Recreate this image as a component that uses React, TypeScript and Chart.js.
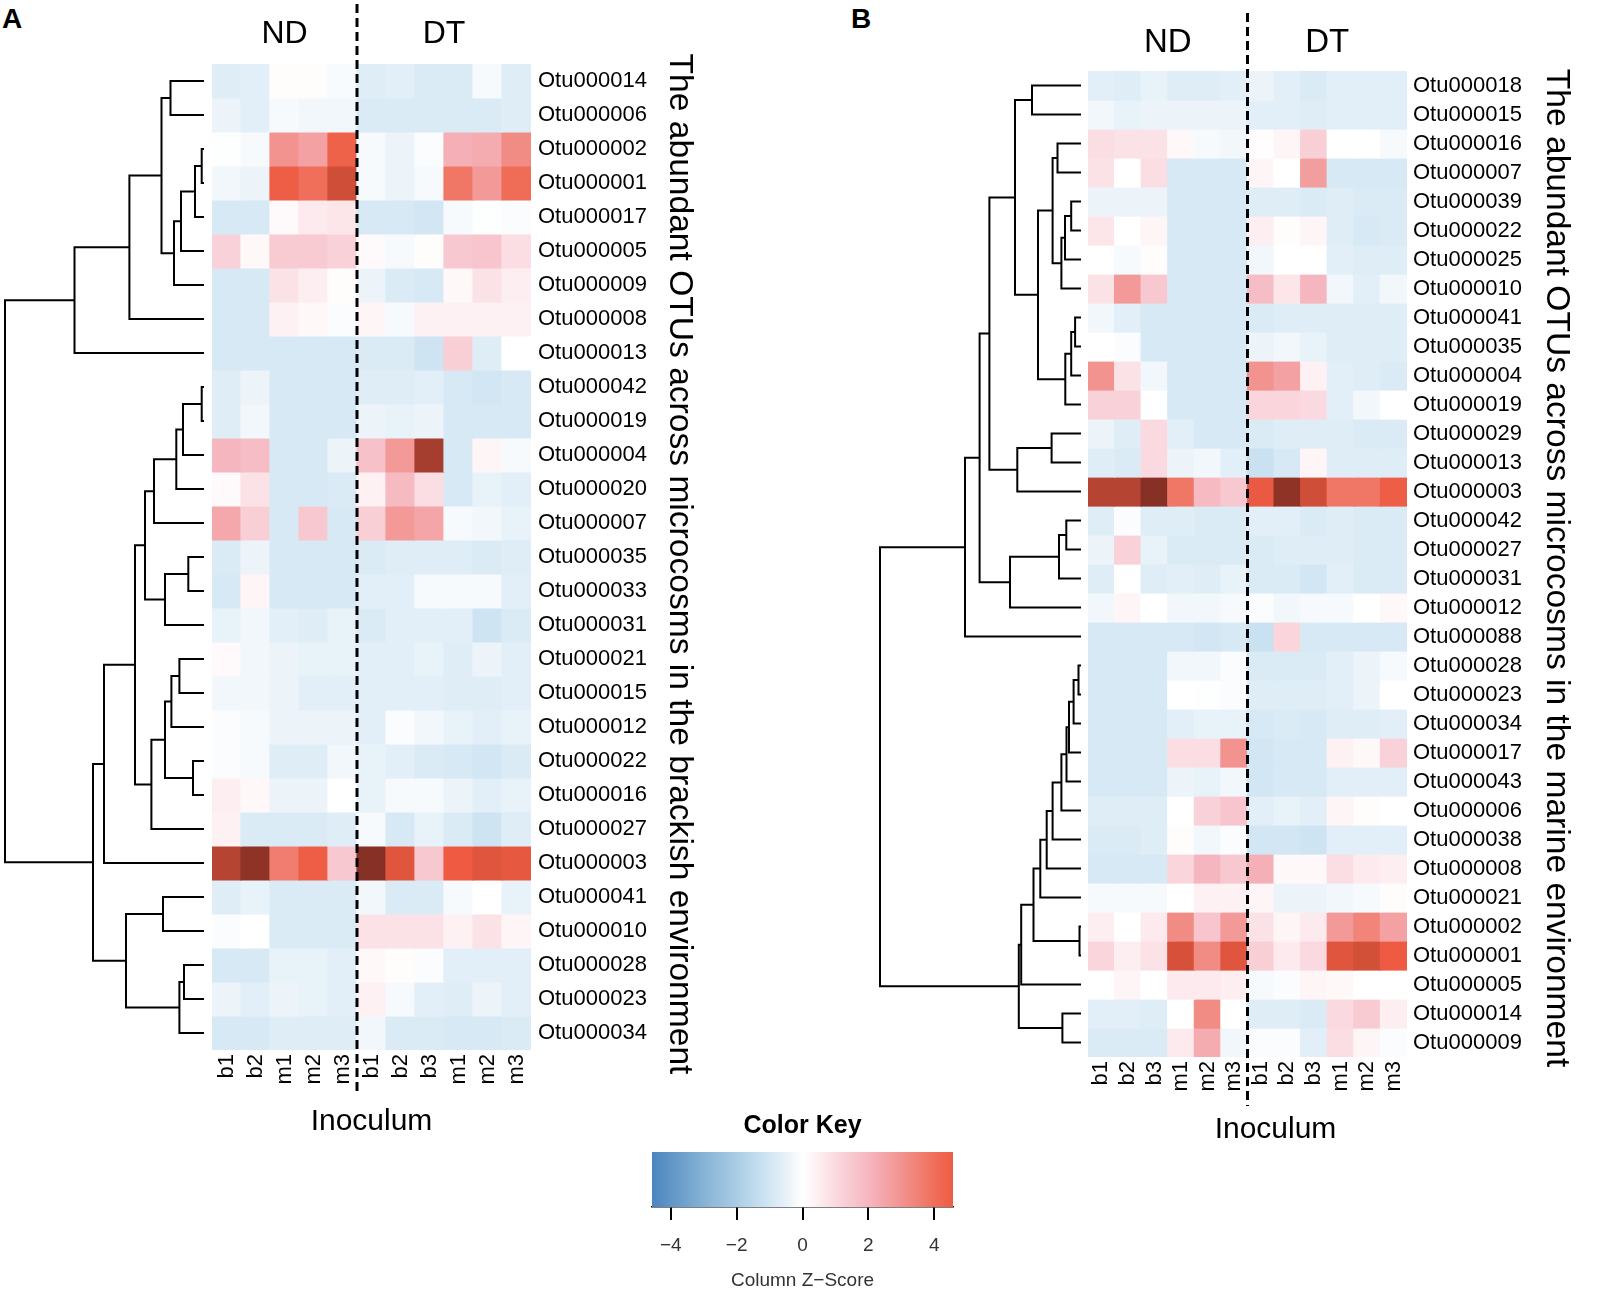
import React, { useEffect, useRef } from "react";
import { Chart, registerables } from "chart.js";
Chart.register(...registerables);

const FONT = '"Liberation Sans", Arial, Helvetica, sans-serif';

// ---------------- Panel A : brackish ----------------
const rowsA = [
  "Otu000014", "Otu000006", "Otu000002", "Otu000001", "Otu000017", "Otu000005",
  "Otu000009", "Otu000008", "Otu000013", "Otu000042", "Otu000019", "Otu000004",
  "Otu000020", "Otu000007", "Otu000035", "Otu000033", "Otu000031", "Otu000021",
  "Otu000015", "Otu000012", "Otu000022", "Otu000016", "Otu000027", "Otu000003",
  "Otu000041", "Otu000010", "Otu000028", "Otu000023", "Otu000034",
];
const colsA = ["b1", "b2", "m1", "m2", "m3", "b1", "b2", "b3", "m1", "m2", "m3"];
const groupsA = ["ND", "DT"];
const groupSizesA = [5, 6];
const titleA = "The abundant OTUs across microcosms in the brackish environment";
const zA = [
  [-0.7, -0.6, 0.1, 0.1, -0.15, -0.7, -0.6, -0.8, -0.8, -0.2, -0.7],
  [-0.4, -0.6, -0.2, -0.3, -0.3, -0.8, -0.8, -0.8, -0.8, -0.8, -0.7],
  [-0.05, -0.2, 3.0, 2.6, 4.4, -0.2, -0.4, -0.1, 2.2, 2.3, 3.2],
  [-0.3, -0.4, 4.5, 4.0, 5.4, -0.2, -0.4, -0.2, 3.8, 2.8, 4.1],
  [-0.9, -0.9, 0.15, 0.6, 0.7, -0.9, -0.9, -1.0, -0.2, -0.05, -0.1],
  [1.2, 0.2, 1.4, 1.4, 1.2, 0.15, -0.2, 0.1, 1.5, 1.6, 0.9],
  [-0.9, -0.9, 0.8, 0.5, 0.1, -0.4, -0.8, -0.9, 0.2, 0.8, 0.5],
  [-0.9, -0.9, 0.4, 0.2, -0.1, 0.3, -0.2, 0.4, 0.4, 0.4, 0.4],
  [-0.9, -0.9, -0.9, -0.9, -0.9, -0.8, -0.8, -1.1, 1.3, -0.7, 0.0],
  [-0.7, -0.4, -0.9, -0.9, -0.9, -0.7, -0.7, -0.6, -0.9, -1.0, -0.9],
  [-0.7, -0.3, -0.9, -0.9, -0.9, -0.4, -0.5, -0.4, -0.9, -0.9, -0.9],
  [2.0, 1.8, -0.9, -0.9, -0.4, 1.7, 2.8, 6.4, -0.9, 0.3, -0.2],
  [0.15, 0.8, -0.9, -0.9, -0.8, 0.4, 1.9, 0.9, -0.9, -0.5, -0.6],
  [2.4, 1.3, -0.9, 1.5, -0.9, 1.3, 2.8, 2.5, -0.2, -0.3, -0.5],
  [-0.8, -0.4, -0.9, -0.9, -0.9, -0.8, -0.7, -0.7, -0.7, -0.8, -0.7],
  [-0.9, 0.3, -0.9, -0.9, -0.9, -0.6, -0.6, -0.2, -0.2, -0.2, -0.6],
  [-0.5, -0.3, -0.6, -0.7, -0.5, -0.8, -0.6, -0.6, -0.6, -1.1, -0.8],
  [0.15, -0.3, -0.4, -0.5, -0.5, -0.6, -0.6, -0.5, -0.7, -0.4, -0.6],
  [-0.3, -0.3, -0.4, -0.6, -0.6, -0.6, -0.6, -0.6, -0.7, -0.7, -0.6],
  [-0.1, -0.2, -0.4, -0.4, -0.4, -0.6, -0.1, -0.3, -0.5, -0.6, -0.5],
  [-0.1, -0.2, -0.7, -0.7, -0.3, -0.5, -0.6, -0.8, -0.9, -1.0, -0.8],
  [0.5, 0.2, -0.4, -0.4, 0.0, -0.5, -0.2, -0.2, -0.4, -0.6, -0.5],
  [0.4, -0.8, -0.8, -0.8, -0.7, -0.2, -0.9, -0.5, -0.8, -1.1, -0.7],
  [6.0, 7.0, 3.6, 4.5, 1.5, 7.2, 5.0, 1.5, 4.6, 5.0, 4.8],
  [-0.7, -0.5, -0.8, -0.8, -0.8, -0.3, -0.8, -0.8, -0.2, 0.0, -0.5],
  [-0.1, 0.0, -0.8, -0.8, -0.8, 0.8, 0.8, 0.8, 0.4, 0.8, 0.3],
  [-0.9, -0.9, -0.5, -0.5, -0.6, 0.2, 0.1, -0.1, -0.6, -0.6, -0.6],
  [-0.4, -0.6, -0.4, -0.5, -0.6, 0.4, -0.2, -0.6, -0.7, -0.4, -0.6],
  [-0.9, -0.9, -0.7, -0.7, -0.7, -0.3, -0.8, -0.8, -0.9, -0.9, -0.8],
];
// hclust-style merges: negative = leaf (1-based row), positive = earlier merge (1-based)
const mergeA: [number, number][] = [
  [-3, -4], [-10, -11], [1, -5], [-21, -22], [-15, -16], [-27, -28], [2, -12],
  [3, -6], [-18, -19], [6, -29], [7, -13], [8, -7], [9, -20], [-1, -2], [5, -17],
  [13, 4], [-25, -26], [14, 12], [11, -14], [16, -23], [19, 15], [21, 20],
  [18, -8], [17, 10], [22, -24], [25, 24], [23, -9], [27, 26],
];
const heightA = [
  2.3, 2.3, 9, 11, 15.7, 20, 21, 23, 24.6, 24.6, 27.7, 30, 32.6, 33.5, 39, 39,
  41, 42.5, 50, 52.6, 59, 69, 74.6, 78, 100, 111, 129.5, 199,
];

// ---------------- Panel B : marine ----------------
const rowsB = [
  "Otu000018", "Otu000015", "Otu000016", "Otu000007", "Otu000039", "Otu000022",
  "Otu000025", "Otu000010", "Otu000041", "Otu000035", "Otu000004", "Otu000019",
  "Otu000029", "Otu000013", "Otu000003", "Otu000042", "Otu000027", "Otu000031",
  "Otu000012", "Otu000088", "Otu000028", "Otu000023", "Otu000034", "Otu000017",
  "Otu000043", "Otu000006", "Otu000038", "Otu000008", "Otu000021", "Otu000002",
  "Otu000001", "Otu000005", "Otu000014", "Otu000009",
];
const colsB = ["b1", "b2", "b3", "m1", "m2", "m3", "b1", "b2", "b3", "m1", "m2", "m3"];
const groupsB = ["ND", "DT"];
const groupSizesB = [6, 6];
const titleB = "The abundant OTUs across microcosms in the marine environment";
const zB = [
  [-0.6, -0.7, -0.5, -0.7, -0.7, -0.6, -0.4, -0.6, -0.8, -0.6, -0.6, -0.6],
  [-0.3, -0.5, -0.4, -0.4, -0.4, -0.4, -0.6, -0.6, -0.7, -0.6, -0.6, -0.6],
  [0.9, 0.8, 0.8, 0.2, -0.2, -0.3, 0.05, 0.3, 1.3, 0.0, 0.0, -0.2],
  [0.8, 0.0, 0.9, -0.9, -0.9, -0.9, 0.3, 0.0, 2.7, -0.9, -0.9, -0.9],
  [-0.4, -0.4, -0.4, -0.9, -0.9, -0.9, -0.7, -0.7, -0.8, -0.7, -0.8, -0.8],
  [0.7, 0.0, 0.3, -0.9, -0.9, -0.9, 0.5, 0.1, 0.3, -0.7, -0.9, -0.8],
  [0.0, -0.2, 0.1, -0.9, -0.9, -0.9, -0.3, 0.0, 0.0, -0.6, -0.7, -0.7],
  [0.8, 2.8, 1.5, -0.9, -0.9, -0.9, 1.8, 0.7, 2.0, -0.3, -0.6, -0.3],
  [-0.3, -0.6, -0.9, -0.9, -0.9, -0.9, -0.8, -0.7, -0.7, -0.7, -0.7, -0.7],
  [0.0, -0.1, -0.9, -0.9, -0.9, -0.9, -0.4, -0.3, -0.5, -0.7, -0.7, -0.7],
  [3.0, 0.8, -0.3, -0.9, -0.9, -0.9, 3.0, 2.6, 0.4, -0.6, -0.7, -0.8],
  [1.2, 1.2, 0.0, -0.9, -0.9, -0.9, 1.1, 1.1, 1.0, -0.6, -0.3, 0.0],
  [-0.4, -0.7, 1.0, -0.6, -0.9, -0.9, -0.8, -0.7, -0.7, -0.7, -0.8, -0.8],
  [-0.7, -0.8, 1.0, -0.4, -0.3, -0.6, -1.2, -0.9, 0.3, -0.7, -0.7, -0.7],
  [6.0, 6.0, 7.2, 3.8, 1.9, 1.5, 4.7, 7.0, 5.4, 3.8, 3.8, 4.5],
  [-0.7, -0.1, -0.7, -0.7, -0.8, -0.8, -0.6, -0.6, -0.8, -0.7, -0.8, -0.8],
  [-0.4, 1.2, -0.5, -0.8, -0.8, -0.8, -0.8, -0.7, -0.7, -0.7, -0.8, -0.8],
  [-0.7, 0.0, -0.7, -0.6, -0.7, -0.5, -0.8, -0.8, -1.0, -0.6, -0.8, -0.8],
  [-0.3, 0.3, 0.0, -0.3, -0.3, -0.2, -0.1, -0.3, -0.2, -0.2, 0.0, 0.2],
  [-0.9, -0.9, -0.9, -0.9, -1.0, -0.9, -1.2, 1.1, -0.9, -0.9, -0.9, -0.9],
  [-0.9, -0.9, -0.9, -0.3, -0.3, -0.1, -0.8, -0.8, -0.8, -0.6, -0.4, -0.2],
  [-0.9, -0.9, -0.9, 0.0, -0.05, -0.1, -0.7, -0.7, -0.7, -0.6, -0.4, 0.0],
  [-0.9, -0.9, -0.9, -0.6, -0.5, -0.5, -0.9, -0.8, -0.9, -0.7, -0.7, -0.6],
  [-0.9, -0.9, -0.9, 0.9, 0.9, 3.0, -1.0, -0.9, -0.9, 0.4, 0.2, 1.2],
  [-0.9, -0.9, -0.9, -0.4, -0.5, -0.3, -1.0, -0.9, -0.9, -0.6, -0.6, -0.6],
  [-0.7, -0.7, -0.7, 0.0, 1.2, 1.6, -0.6, -0.5, -0.6, 0.3, 0.1, 0.0],
  [-0.8, -0.8, -0.7, 0.1, -0.3, -0.1, -1.0, -1.0, -1.1, -0.6, -0.6, -0.6],
  [-0.9, -0.9, -0.9, 1.1, 2.0, 1.5, 2.2, 0.2, 0.2, 0.9, 0.6, 0.5],
  [-0.2, -0.2, -0.2, 0.0, 0.4, 0.4, 0.3, -0.4, -0.4, -0.3, -0.2, 0.1],
  [0.5, 0.0, 0.6, 3.2, 1.6, 2.8, 0.8, 0.3, 0.6, 2.8, 3.4, 2.6],
  [1.1, 0.5, 0.8, 5.2, 3.2, 5.0, 1.3, 0.6, 1.0, 5.0, 5.3, 4.6],
  [0.0, 0.3, 0.0, 0.6, 0.6, 0.5, -0.2, -0.1, 0.3, 0.2, 0.0, 0.0],
  [-0.6, -0.6, -0.7, 0.0, 3.2, 0.0, -0.7, -0.7, -0.8, 1.0, 1.4, 0.5],
  [-0.8, -0.8, -0.8, 0.6, 2.3, -0.3, -0.1, -0.1, -0.6, 0.9, 0.3, -0.1],
];
const mergeB: [number, number][] = [
  [-30, -31], [-21, -22], [-9, -10], [2, -23], [-5, -6], [3, -11], [4, -24],
  [7, -25], [-16, -17], [5, -7], [6, -12], [-33, -34], [10, -8], [8, -26],
  [9, -18], [-3, -4], [16, 13], [14, -27], [-13, -14], [18, -28], [20, -29],
  [17, 11], [21, 1], [-1, -2], [23, -32], [25, 12], [19, -15], [24, 22],
  [15, -19], [28, 27], [30, 29], [31, -20], [32, 26],
];
const heightB = [
  1.5, 2.5, 5.9, 7.4, 9.8, 9.8, 12, 14.5, 14.7, 16, 15.7, 18.6, 19.6, 19.6,
  22, 23.5, 28.4, 28.4, 29.4, 34.3, 40.7, 43, 47.5, 49, 59.8, 62.2, 63.7, 66,
  71, 91.6, 101.4, 116, 201,
];

// ---------------- Color key ----------------
const keyRange = [-4.57, 4.57];
const keyTicks = [-4, -2, 0, 2, 4];

// colour ramp (style)
const rampZ = [-4.6, -3, -2, -1.2, -0.9, -0.6, -0.3, 0, 0.5, 1.2, 2, 3, 4, 4.6, 5.4, 6.2, 7.2];
const rampHex = [
  "#4a84bf", "#86b3d5", "#a9cde4", "#c9e1f1", "#d7e9f5", "#e3eff8", "#f1f7fb",
  "#ffffff", "#fdeef1", "#f9d2d9", "#f6b6c0", "#f2938f", "#ef6f5a", "#ee5b42",
  "#cf4e37", "#ad4130", "#873025",
];
function hexToRgb(h: string) {
  return [parseInt(h.slice(1, 3), 16), parseInt(h.slice(3, 5), 16), parseInt(h.slice(5, 7), 16)];
}
function colorFor(z: number) {
  if (z <= rampZ[0]) return rampHex[0];
  if (z >= rampZ[rampZ.length - 1]) return rampHex[rampHex.length - 1];
  for (let i = 0; i < rampZ.length - 1; i++) {
    if (z >= rampZ[i] && z <= rampZ[i + 1]) {
      const t = (z - rampZ[i]) / (rampZ[i + 1] - rampZ[i]);
      const a = hexToRgb(rampHex[i]);
      const b = hexToRgb(rampHex[i + 1]);
      const c = a.map((v, k) => Math.round(v + (b[k] - v) * t));
      return `rgb(${c[0]},${c[1]},${c[2]})`;
    }
  }
  return "#ffffff";
}

type HeatLayout = {
  left: number; top: number; width: number; height: number;
  padL: number; padT: number; rightW: number; bottomH: number;
  headerSize: number; headerBaseline: number;
  dashTop: number; dashBottom: number;
  inocOffset: number; inocBaseline: number;
  titleX: number; titleDy: number; labelPad: number;
};

function Heatmap(props: {
  rows: string[]; cols: string[]; z: number[][]; groups: string[];
  groupSizes: number[]; title: string; L: HeatLayout;
}) {
  const ref = useRef<HTMLCanvasElement | null>(null);
  const { rows, cols, z, groups, groupSizes, title, L } = props;
  useEffect(() => {
    if (!ref.current) return;
    const extras = {
      id: "heatExtras",
      afterDraw(chart: any) {
        const ctx = chart.ctx;
        const xs = chart.scales.x;
        const area = chart.chartArea;
        ctx.save();
        ctx.fillStyle = "#000";
        ctx.textAlign = "center";
        ctx.textBaseline = "alphabetic";
        ctx.font = `${L.headerSize}px ${FONT}`;
        let start = 0;
        groups.forEach((g, gi) => {
          const end = start + groupSizes[gi] - 1;
          const cx = (xs.getPixelForValue(start) + xs.getPixelForValue(end)) / 2;
          ctx.fillText(g, cx, L.headerBaseline - L.top);
          start = end + 1;
        });
        const bx = (xs.getPixelForValue(groupSizes[0] - 1) + xs.getPixelForValue(groupSizes[0])) / 2;
        ctx.strokeStyle = "#000";
        ctx.lineWidth = 3;
        ctx.setLineDash([9, 5]);
        ctx.beginPath();
        ctx.moveTo(bx, L.dashTop - L.top);
        ctx.lineTo(bx, L.dashBottom - L.top);
        ctx.stroke();
        ctx.setLineDash([]);
        ctx.font = `30px ${FONT}`;
        ctx.fillText("Inoculum", (area.left + area.right) / 2 + L.inocOffset, L.inocBaseline - L.top);
        ctx.translate(L.titleX - L.left, (area.top + area.bottom) / 2 + L.titleDy);
        ctx.rotate(Math.PI / 2);
        ctx.font = `33.6px ${FONT}`;
        ctx.fillText(title, 0, 0);
        ctx.restore();
      },
    };
    const chart = new Chart(ref.current, {
      type: "bar",
      data: {
        labels: cols,
        datasets: rows.map((r, i) => ({
          label: r,
          data: cols.map(() => 1),
          backgroundColor: z[i].map(colorFor),
          borderWidth: 0,
          barPercentage: 1,
          categoryPercentage: 1,
          inflateAmount: 0.6,
          stack: "cells",
        })),
      },
      options: {
        animation: false,
        responsive: false,
        maintainAspectRatio: false,
        layout: { padding: { left: L.padL, top: L.padT, right: 0, bottom: 0 } },
        plugins: { legend: { display: false }, tooltip: { enabled: false } },
        scales: {
          x: {
            type: "category",
            stacked: true,
            offset: true,
            grid: { display: false, drawTicks: false },
            border: { display: false },
            ticks: {
              autoSkip: false,
              minRotation: 90,
              maxRotation: 90,
              padding: 4,
              color: "#000",
              font: { size: 22, family: FONT },
            },
            afterFit: (s: any) => { s.height = L.bottomH; },
          },
          y: {
            type: "linear",
            stacked: true,
            min: 0,
            max: rows.length,
            reverse: true,
            position: "right",
            grid: { display: false, drawTicks: false },
            border: { display: false },
            afterBuildTicks: (s: any) => { s.ticks = rows.map((_, i) => ({ value: i + 0.5 })); },
            ticks: {
              autoSkip: false,
              padding: L.labelPad,
              color: "#000",
              font: { size: 22, family: FONT },
              callback: (_v: any, i: number) => rows[i],
            },
            afterFit: (s: any) => { s.width = L.rightW; },
          },
        },
      } as any,
      plugins: [extras],
    });
    return () => chart.destroy();
  }, []);
  return (
    <canvas
      ref={ref}
      width={L.width}
      height={L.height}
      style={{ position: "absolute", left: L.left, top: L.top, width: L.width, height: L.height }}
    />
  );
}

type DendroLayout = { left: number; top: number; width: number; height: number; pl: number; pr: number; pt: number; pb: number };

function buildSegments(merge: [number, number][], heights: number[]) {
  const pos: number[] = [];
  const yOf = (id: number) => (id < 0 ? -id - 1 + 0.5 : pos[id - 1]);
  const hOf = (id: number) => (id < 0 ? 0 : heights[id - 1]);
  return merge.map(([a, b], k) => {
    const ya = yOf(a);
    const yb = yOf(b);
    const h = heights[k];
    pos[k] = (ya + yb) / 2;
    return [
      { x: hOf(a), y: ya },
      { x: h, y: ya },
      { x: h, y: yb },
      { x: hOf(b), y: yb },
    ];
  });
}

function Dendrogram(props: { merge: [number, number][]; heights: number[]; nRows: number; L: DendroLayout }) {
  const ref = useRef<HTMLCanvasElement | null>(null);
  const { merge, heights, nRows, L } = props;
  useEffect(() => {
    if (!ref.current) return;
    const segs = buildSegments(merge, heights);
    const chart = new Chart(ref.current, {
      type: "scatter",
      data: {
        datasets: segs.map((s) => ({
          data: s,
          showLine: true,
          borderColor: "#000",
          borderWidth: 2,
          borderJoinStyle: "miter",
          borderCapStyle: "butt",
          pointRadius: 0,
          tension: 0,
          clip: false,
        })),
      },
      options: {
        animation: false,
        responsive: false,
        maintainAspectRatio: false,
        layout: { padding: { left: L.pl, right: L.pr, top: L.pt, bottom: L.pb } },
        plugins: { legend: { display: false }, tooltip: { enabled: false } },
        scales: {
          x: { type: "linear", min: 0, max: Math.max(...heights), reverse: true, display: false },
          y: { type: "linear", min: 0, max: nRows, reverse: true, display: false },
        },
      } as any,
    });
    return () => chart.destroy();
  }, []);
  return (
    <canvas
      ref={ref}
      width={L.width}
      height={L.height}
      style={{ position: "absolute", left: L.left, top: L.top, width: L.width, height: L.height }}
    />
  );
}

function ColorKey() {
  const ref = useRef<HTMLCanvasElement | null>(null);
  useEffect(() => {
    if (!ref.current) return;
    const [kMin, kMax] = keyRange;
    const chart = new Chart(ref.current, {
      type: "bar",
      data: {
        labels: [""],
        datasets: [
          {
            data: [[kMin, kMax]],
            backgroundColor: (c: any) => {
              const ch = c.chart;
              if (!ch.chartArea) return "#fff";
              const xs = ch.scales.x;
              const x0 = xs.getPixelForValue(kMin);
              const x1 = xs.getPixelForValue(kMax);
              const g = ch.ctx.createLinearGradient(x0, 0, x1, 0);
              g.addColorStop(0, colorFor(kMin));
              rampZ.forEach((zz) => {
                if (zz > kMin && zz < kMax) g.addColorStop((zz - kMin) / (kMax - kMin), colorFor(zz));
              });
              g.addColorStop(1, colorFor(kMax));
              return g;
            },
            borderWidth: 0,
            barPercentage: 1,
            categoryPercentage: 1,
          },
        ],
      },
      options: {
        animation: false,
        responsive: false,
        maintainAspectRatio: false,
        indexAxis: "y",
        layout: { padding: { left: 32, right: 47, top: 0, bottom: 0 } },
        plugins: {
          legend: { display: false },
          tooltip: { enabled: false },
          title: {
            display: true,
            text: "Color Key",
            color: "#000",
            font: { size: 25, weight: "bold", family: FONT },
            padding: { top: 0, bottom: 11 },
          },
        },
        scales: {
          x: {
            type: "linear",
            min: kMin,
            max: kMax,
            afterBuildTicks: (s: any) => { s.ticks = keyTicks.map((v) => ({ value: v })); },
            ticks: {
              color: "#333",
              padding: 14,
              font: { size: 19, family: FONT },
              callback: (v: any) => String(v).replace("-", "\u2212"),
            },
            grid: { drawOnChartArea: false, drawTicks: true, tickLength: 13, color: "#000", lineWidth: 2 },
            border: { display: true, color: "#000", width: 1.5 },
            title: {
              display: true,
              text: "Column Z\u2212Score",
              color: "#333",
              font: { size: 19, family: FONT },
              padding: { top: 0, bottom: 14 },
            },
            afterFit: (s: any) => { s.height = 99; },
          },
          y: { type: "category", display: false },
        },
      } as any,
    });
    return () => chart.destroy();
  }, []);
  return (
    <canvas
      ref={ref}
      width={380}
      height={195}
      style={{ position: "absolute", left: 620, top: 1111, width: 380, height: 195 }}
    />
  );
}

const layoutA: HeatLayout = {
  left: 200, top: 0, width: 520, height: 1160, padL: 12, padT: 64, rightW: 189, bottomH: 110,
  headerSize: 32, headerBaseline: 43, dashTop: 4, dashBottom: 1093,
  inocOffset: 0, inocBaseline: 1130, titleX: 670, titleDy: 7, labelPad: 7,
};
const layoutB: HeatLayout = {
  left: 1075, top: 0, width: 540, height: 1160, padL: 13, padT: 71, rightW: 208, bottomH: 103,
  headerSize: 33, headerBaseline: 52, dashTop: 13, dashBottom: 1106,
  inocOffset: 28, inocBaseline: 1138, titleX: 1547, titleDy: 4, labelPad: 6,
};
const dendroA: DendroLayout = { left: 0, top: 60, width: 212, height: 994, pl: 5, pr: 8, pt: 4, pb: 4 };
const dendroB: DendroLayout = { left: 870, top: 66, width: 215, height: 996, pl: 10, pr: 4, pt: 5, pb: 5 };

export default function App() {
  const letter: React.CSSProperties = {
    position: "absolute",
    fontFamily: FONT,
    fontWeight: "bold",
    fontSize: 28,
    lineHeight: "28px",
    color: "#000",
    margin: 0,
  };
  return (
    <div style={{ position: "absolute", left: 0, top: 0, width: 1618, height: 1312, background: "#fff", overflow: "hidden" }}>
      <div style={{ ...letter, left: 2, top: 5 }}>A</div>
      <div style={{ ...letter, left: 851, top: 5 }}>B</div>
      <Dendrogram merge={mergeA} heights={heightA} nRows={rowsA.length} L={dendroA} />
      <Heatmap rows={rowsA} cols={colsA} z={zA} groups={groupsA} groupSizes={groupSizesA} title={titleA} L={layoutA} />
      <Dendrogram merge={mergeB} heights={heightB} nRows={rowsB.length} L={dendroB} />
      <Heatmap rows={rowsB} cols={colsB} z={zB} groups={groupsB} groupSizes={groupSizesB} title={titleB} L={layoutB} />
      <ColorKey />
    </div>
  );
}
